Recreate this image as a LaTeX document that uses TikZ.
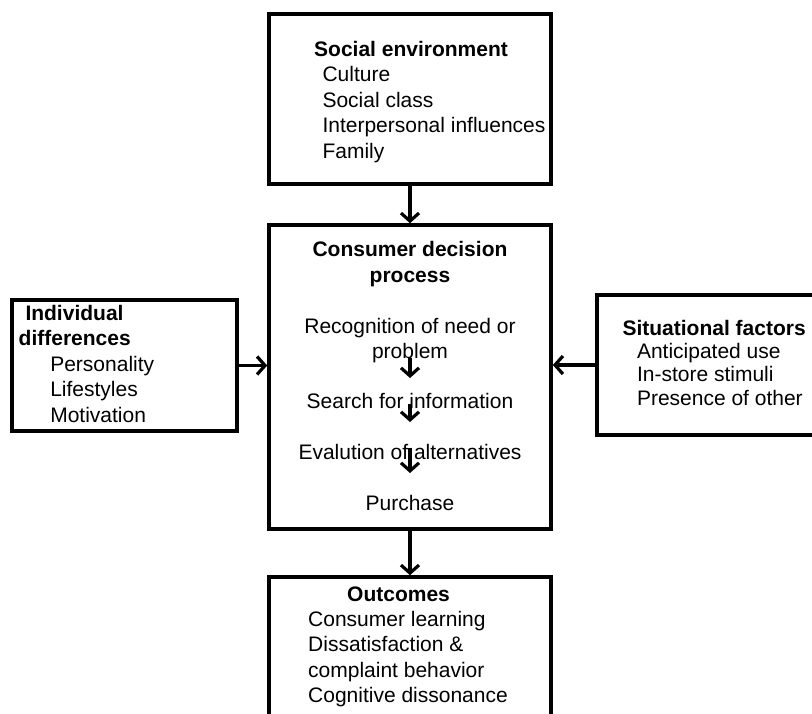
\documentclass[tikz,border=0pt]{standalone}
\usepackage{fontspec}
\setmainfont{Liberation Sans}
\usetikzlibrary{arrows.meta}

\begin{document}
\begin{tikzpicture}[x=1pt, y=-1pt,
    box/.style={draw, line width=3.6pt, inner sep=0pt},
    txt/.style={inner sep=0pt, anchor=north west, align=left, font={\fontsize{21pt}{#1}\selectfont}},
    txt/.default=25.5pt,
    arr/.style={line width=3.2pt, -{Straight Barb[length=8pt,width=18pt]}}]
\fill[white] (0,0) rectangle (812,713);
\useasboundingbox (0,0) rectangle (812,713);
\clip (0,0) rectangle (812,713);

% boxes
\node[box, minimum width=282pt, minimum height=170pt] (soc) at (410,99) {};
\node[box, minimum width=282pt, minimum height=304pt] (cdp) at (410,377) {};
\node[box, minimum width=225pt, minimum height=131pt] (ind) at (124.5,365.5) {};
\node[box, minimum width=240pt, minimum height=140pt] (sit) at (717,365) {};
\node[box, minimum width=282pt, minimum height=170pt] (out) at (410,662) {};

% texts
\node[txt] (socTxt) at (314,40.7) {\textbf{Social environment}\\
  \hspace*{8.3pt}Culture\\ \hspace*{8.3pt}Social class\\
  \hspace*{8.3pt}Interpersonal influences\\ \hspace*{8.3pt}Family};
\node[txt] (indTxt) at (18.5,305) {\hspace*{6.8pt}\textbf{Individual}\\ \textbf{differences}\\
  \hspace*{31.6pt}Personality\\ \hspace*{31.6pt}Lifestyles\\ \hspace*{31.6pt}Motivation};
\node[txt=23.3pt] (sitTxt) at (622.3,319.8) {\textbf{Situational factors}\\
  \hspace*{14.5pt}Anticipated use\\ \hspace*{14.5pt}In-store stimuli\\ \hspace*{14.5pt}Presence of other};
\node[txt=25.4pt] (outTxt) at (308,586.2) {\hspace*{39pt}\textbf{Outcomes}\\
  Consumer learning\\ Dissatisfaction \&\\ complaint behavior\\ Cognitive dissonance};

\node[txt=25.3pt, anchor=north, align=center] (cdpTxt) at (410,241.5) {\textbf{Consumer decision}\\ \textbf{process}};
\node[txt=25.3pt, anchor=north, align=center] (rec) at (410,318.2) {Recognition of need or\\ problem};
\node[txt, anchor=north] (srch) at (410,393.3) {Search for information};
\node[txt, anchor=north] (eval) at (410,444.3) {Evalution of alternatives};
\node[txt, anchor=north] (purch) at (410,494.8) {Purchase};

% connectors
\draw[arr] (soc) -- (cdp);
\draw[arr] (cdp) -- (out);
\draw[arr] (ind.east) -- (ind.east -| cdp.west);
\draw[arr] (sit.west) -- (sit.west -| cdp.east);
\draw[arr] ([yshift=5.7pt]rec.south) -- ([yshift=15.3pt]srch.north);
\draw[arr] ([yshift=5.6pt]srch.south) -- ([yshift=22.3pt]eval.north);
\draw[arr] ([yshift=12.6pt]eval.south) -- ([yshift=21.8pt]purch.north);
\end{tikzpicture}
\end{document}
